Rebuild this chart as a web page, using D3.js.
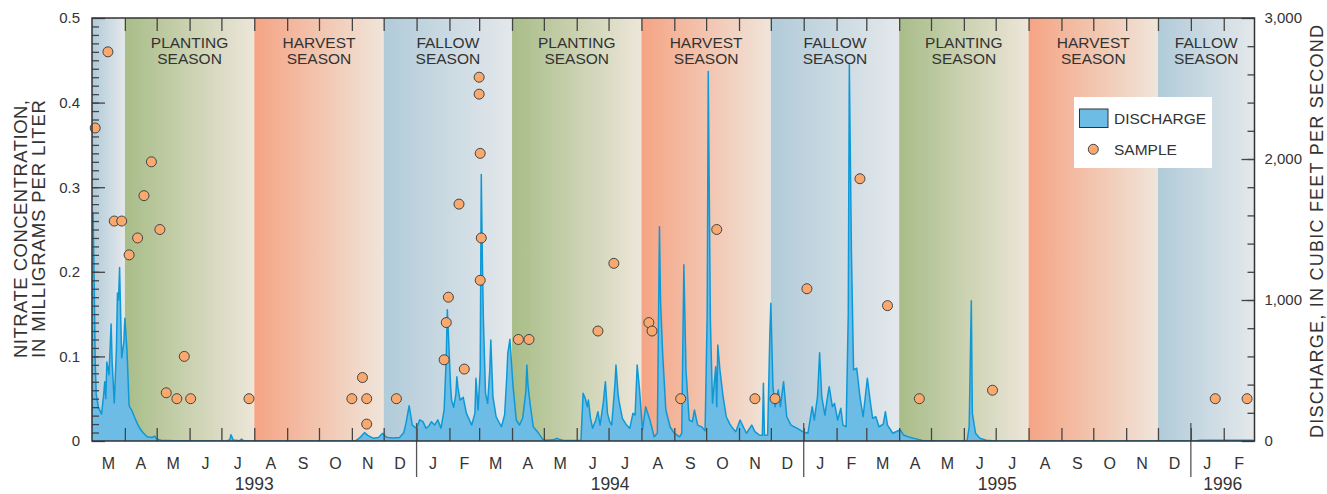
<!DOCTYPE html>
<html>
<head>
<meta charset="utf-8">
<script src="https://cdn.jsdelivr.net/npm/d3@7/dist/d3.min.js"></script>
<style>
  body { margin: 0; background: #fff; }
  svg text { font-family: "Liberation Sans", Arial, Helvetica, sans-serif; fill: #333; }
</style>
</head>
<body>
<svg id="chart" width="1327" height="494"></svg>
<script>
const seasonStarts = ["1993-03-01", "1993-04-01", "1993-08-01", "1993-12-01", "1994-04-01", "1994-08-01",
    "1994-12-01", "1995-04-01", "1995-08-01", "1995-12-01", "1996-03-01"];
const seasonNames = ["FALLOW", "PLANTING", "HARVEST", "FALLOW", "PLANTING", "HARVEST",
    "FALLOW", "PLANTING", "HARVEST", "FALLOW"];
const yearLabels = ["1993", "1994", "1995", "1996"];

// daily discharge, cubic feet per second
const discharge = [
    ["1993-03-01", 1600], ["1993-03-02", 1620], ["1993-03-03", 1150], ["1993-03-04", 560], ["1993-03-05", 330],
    ["1993-03-07", 240], ["1993-03-10", 190], ["1993-03-12", 330], ["1993-03-13", 420], ["1993-03-14", 300],
    ["1993-03-15", 560], ["1993-03-17", 470], ["1993-03-19", 830], ["1993-03-20", 560], ["1993-03-22", 270],
    ["1993-03-24", 650], ["1993-03-25", 1050], ["1993-03-26", 1000], ["1993-03-27", 1230], ["1993-03-28", 900],
    ["1993-03-29", 590], ["1993-03-31", 700], ["1993-04-01", 870], ["1993-04-03", 640], ["1993-04-05", 250],
    ["1993-04-08", 210], ["1993-04-10", 170], ["1993-04-13", 120], ["1993-04-15", 90], ["1993-04-18", 60],
    ["1993-04-22", 30], ["1993-04-27", 25], ["1993-04-29", 35], ["1993-05-01", 15], ["1993-05-05", 6],
    ["1993-05-15", 3], ["1993-05-25", 2], ["1993-06-15", 0], ["1993-07-06", 0], ["1993-07-09", 10],
    ["1993-07-10", 45], ["1993-07-12", 8], ["1993-07-18", 2], ["1993-07-20", 14], ["1993-07-22", 2],
    ["1993-07-31", 0], ["1993-11-04", 0], ["1993-11-08", 20], ["1993-11-13", 60], ["1993-11-16", 40],
    ["1993-11-21", 20], ["1993-11-26", 25], ["1993-11-30", 55], ["1993-12-03", 30], ["1993-12-05", 25],
    ["1993-12-10", 22], ["1993-12-16", 25], ["1993-12-20", 60], ["1993-12-22", 125], ["1993-12-25", 250],
    ["1993-12-28", 113], ["1994-01-01", 90], ["1994-01-04", 150], ["1994-01-07", 137], ["1994-01-10", 90],
    ["1994-01-13", 110], ["1994-01-15", 137], ["1994-01-18", 113], ["1994-01-21", 150], ["1994-01-24", 90],
    ["1994-01-27", 220], ["1994-01-29", 600], ["1994-01-30", 930], ["1994-01-31", 760], ["1994-02-02", 400],
    ["1994-02-03", 290], ["1994-02-05", 240], ["1994-02-07", 330], ["1994-02-08", 456], ["1994-02-09", 380],
    ["1994-02-11", 290], ["1994-02-14", 310], ["1994-02-17", 196], ["1994-02-22", 113], ["1994-02-25", 196],
    ["1994-02-26", 445], ["1994-02-28", 220], ["1994-03-01", 360], ["1994-03-02", 504], ["1994-03-03", 1890],
    ["1994-03-04", 1300], ["1994-03-05", 860], ["1994-03-07", 340], ["1994-03-09", 267], ["1994-03-11", 500],
    ["1994-03-12", 716], ["1994-03-14", 314], ["1994-03-17", 172], ["1994-03-22", 101], ["1994-03-25", 184],
    ["1994-03-27", 450], ["1994-03-28", 622], ["1994-03-30", 721], ["1994-04-02", 385], ["1994-04-05", 149],
    ["1994-04-08", 113], ["1994-04-11", 161], ["1994-04-14", 350], ["1994-04-15", 539], ["1994-04-16", 400],
    ["1994-04-18", 267], ["1994-04-21", 101], ["1994-04-25", 66], ["1994-04-30", 12], ["1994-05-03", 5],
    ["1994-05-10", 8], ["1994-05-13", 19], ["1994-05-16", 10], ["1994-05-19", 5], ["1994-06-05", 3],
    ["1994-06-07", 338], ["1994-06-09", 303], ["1994-06-11", 243], ["1994-06-12", 291], ["1994-06-14", 160],
    ["1994-06-16", 90], ["1994-06-19", 149], ["1994-06-21", 208], ["1994-06-23", 113], ["1994-06-26", 267],
    ["1994-06-28", 421], ["1994-06-30", 196], ["1994-07-02", 140], ["1994-07-04", 113], ["1994-07-07", 400],
    ["1994-07-08", 539], ["1994-07-10", 330], ["1994-07-11", 279], ["1994-07-14", 161], ["1994-07-18", 113],
    ["1994-07-21", 90], ["1994-07-24", 196], ["1994-07-26", 184], ["1994-07-28", 539], ["1994-07-30", 385],
    ["1994-08-02", 78], ["1994-08-05", 243], ["1994-08-09", 149], ["1994-08-13", 30], ["1994-08-16", 55],
    ["1994-08-18", 1520], ["1994-08-19", 1000], ["1994-08-21", 622], ["1994-08-24", 220], ["1994-08-28", 101],
    ["1994-09-01", 55], ["1994-09-06", 30], ["1994-09-08", 55], ["1994-09-10", 1250], ["1994-09-12", 504],
    ["1994-09-15", 149], ["1994-09-18", 137], ["1994-09-20", 220], ["1994-09-23", 113], ["1994-09-27", 100],
    ["1994-09-30", 73], ["1994-10-02", 900], ["1994-10-03", 2620], ["1994-10-05", 858], ["1994-10-07", 267],
    ["1994-10-10", 527], ["1994-10-11", 243], ["1994-10-12", 681], ["1994-10-14", 504], ["1994-10-17", 314],
    ["1994-10-20", 172], ["1994-10-23", 125], ["1994-10-26", 90], ["1994-10-29", 66], ["1994-11-02", 149],
    ["1994-11-05", 101], ["1994-11-08", 55], ["1994-11-13", 113], ["1994-11-16", 66], ["1994-11-20", 43],
    ["1994-11-23", 40], ["1994-11-24", 409], ["1994-11-25", 40], ["1994-11-28", 43], ["1994-11-30", 740],
    ["1994-12-01", 977], ["1994-12-03", 385], ["1994-12-05", 243], ["1994-12-08", 362], ["1994-12-10", 243],
    ["1994-12-13", 421], ["1994-12-16", 172], ["1994-12-20", 113], ["1994-12-26", 90], ["1994-12-31", 66],
    ["1995-01-05", 55], ["1995-01-09", 243], ["1995-01-11", 149], ["1995-01-14", 314], ["1995-01-16", 626],
    ["1995-01-18", 314], ["1995-01-21", 184], ["1995-01-23", 291], ["1995-01-25", 385], ["1995-01-28", 243],
    ["1995-01-30", 267], ["1995-02-02", 149], ["1995-02-05", 232], ["1995-02-07", 113], ["1995-02-10", 101],
    ["1995-02-12", 900], ["1995-02-13", 2670], ["1995-02-15", 1331], ["1995-02-17", 504], ["1995-02-20", 516],
    ["1995-02-23", 314], ["1995-02-26", 172], ["1995-03-02", 445], ["1995-03-05", 267], ["1995-03-07", 161],
    ["1995-03-10", 172], ["1995-03-13", 101], ["1995-03-17", 120], ["1995-03-19", 208], ["1995-03-21", 113],
    ["1995-03-26", 55], ["1995-03-31", 73], ["1995-04-02", 78], ["1995-04-05", 43], ["1995-04-11", 26],
    ["1995-04-17", 15], ["1995-04-23", 3], ["1995-05-10", 0], ["1995-06-04", 2], ["1995-06-06", 101],
    ["1995-06-08", 995], ["1995-06-09", 196], ["1995-06-12", 55], ["1995-06-16", 19], ["1995-06-22", 5],
    ["1995-07-01", 0], ["1996-01-05", 0], ["1996-01-10", 6], ["1996-02-29", 6]
];

// nitrate samples, milligrams per liter
const sampleDates = ["1993-03-04", "1993-03-16", "1993-03-22", "1993-03-29", "1993-04-05", "1993-04-13",
    "1993-04-19", "1993-04-26", "1993-05-04", "1993-05-10", "1993-05-20", "1993-05-27", "1993-06-02",
    "1993-07-27", "1993-11-01", "1993-11-11", "1993-11-15", "1993-11-15", "1993-12-13",
    "1994-01-27", "1994-01-29", "1994-01-31", "1994-02-10", "1994-02-15", "1994-03-01", "1994-03-01",
    "1994-03-02", "1994-03-02", "1994-03-03", "1994-04-07", "1994-04-17", "1994-06-21", "1994-07-06",
    "1994-08-08", "1994-08-11", "1994-09-07", "1994-10-11", "1994-11-16", "1994-12-05",
    "1995-01-04", "1995-02-23", "1995-03-21", "1995-04-20", "1995-06-28", "1996-01-24", "1996-02-23"];
const sampleValues = [0.37, 0.46, 0.26, 0.26, 0.22, 0.24,
    0.29, 0.33, 0.25, 0.057, 0.05, 0.10, 0.05,
    0.05, 0.05, 0.075, 0.05, 0.02, 0.05,
    0.096, 0.14, 0.17, 0.28, 0.085, 0.43, 0.41,
    0.34, 0.19, 0.24, 0.12, 0.12, 0.13, 0.21,
    0.14, 0.13, 0.05, 0.25, 0.05, 0.05,
    0.18, 0.31, 0.16, 0.05, 0.06, 0.05, 0.05];

const parse = d3.utcParse("%Y-%m-%d");
const svg = d3.select("#chart");
const plotLeft = 92, plotRight = 1254.5, plotTop = 18, plotBottom = 441;
const start = parse(seasonStarts[0]), end = parse(seasonStarts[seasonStarts.length - 1]);

const x = d3.scaleUtc().domain([start, end]).range([plotLeft, plotRight]);
const yN = d3.scaleLinear().domain([0, 0.5]).range([plotBottom, plotTop]);
const yQ = d3.scaleLinear().domain([0, 3000]).range([plotBottom, plotTop]);

const gradColors = {
    FALLOW: ["#b1cbd9", "#e4e8eb"],
    PLANTING: ["#a8bd88", "#ede6d9"],
    HARVEST: ["#f5a484", "#f0e5da"]
};
const defs = svg.append("defs");
Object.keys(gradColors).forEach(k => {
    let g = defs.append("linearGradient").attr("id", "g-" + k).attr("x1", 0).attr("x2", 1).attr("y1", 0).attr("y2", 0);
    g.append("stop").attr("offset", 0).attr("stop-color", gradColors[k][0]);
    g.append("stop").attr("offset", 1).attr("stop-color", gradColors[k][1]);
});
defs.append("clipPath").attr("id", "plot-clip")
    .append("rect").attr("x", plotLeft).attr("y", plotTop)
    .attr("width", plotRight - plotLeft).attr("height", plotBottom - plotTop);

let seasons = seasonNames.map((n, i) => ({ name: n, a: parse(seasonStarts[i]), b: parse(seasonStarts[i + 1]), i: i }));

svg.append("g").selectAll("rect")
    .data(seasons)
    .enter().append("rect")
    .attr("x", d => x(d.a))
    .attr("y", plotTop)
    .attr("width", d => x(d.b) - x(d.a))
    .attr("height", plotBottom - plotTop)
    .attr("fill", d => `url(#g-${d.name})`);

// discharge hydrograph
let flow = discharge.map(d => ({ date: parse(d[0]), q: d[1] }));
let plot = svg.append("g").attr("clip-path", "url(#plot-clip)");
plot.append("path")
    .datum(flow)
    .attr("fill", "#6cbce5")
    .attr("d", d3.area().x(d => x(d.date)).y0(plotBottom).y1(d => yQ(d.q)));
plot.append("path")
    .datum(flow)
    .attr("fill", "none")
    .attr("stroke", "#0e99d6")
    .attr("stroke-width", 1.5)
    .attr("stroke-linejoin", "round")
    .attr("d", d3.line().x(d => x(d.date)).y(d => yQ(d.q)));

// axes, ticks pointing into the plot
let styleAxis = g => {
    g.select(".domain").remove();
    g.selectAll(".tick line").attr("stroke", "#444").attr("stroke-width", 1.3);
    g.selectAll("text").attr("font-size", 15).attr("fill", "#333");
};
svg.append("g").attr("transform", `translate(${plotLeft},0)`)
    .call(d3.axisLeft(yN).tickValues(d3.range(0.01, 0.5, 0.01)).tickSizeInner(-7).tickSizeOuter(0).tickFormat(""))
    .call(styleAxis);
svg.append("g").attr("transform", `translate(${plotLeft},0)`)
    .call(d3.axisLeft(yN).tickValues([0, 0.1, 0.2, 0.3, 0.4, 0.5]).tickSizeInner(-13).tickSizeOuter(0).tickPadding(12)
        .tickFormat(d => d === 0 ? "0" : d3.format(".1f")(d)))
    .call(styleAxis);
svg.append("g").attr("transform", `translate(${plotRight},0)`)
    .call(d3.axisRight(yQ).tickValues(d3.range(200, 3000, 200)).tickSizeInner(-7).tickSizeOuter(0).tickFormat(""))
    .call(styleAxis);
svg.append("g").attr("transform", `translate(${plotRight},0)`)
    .call(d3.axisRight(yQ).tickValues([0, 1000, 2000, 3000]).tickSizeInner(-13).tickSizeOuter(0).tickPadding(10)
        .tickFormat(d3.format(",")))
    .call(styleAxis);

let months = d3.utcMonths(d3.utcMonth.offset(start, 1), end);
svg.append("g").attr("transform", `translate(0,${plotBottom})`)
    .call(d3.axisBottom(x).tickValues(months).tickSizeInner(-13).tickSizeOuter(0).tickFormat(""))
    .call(styleAxis);
svg.append("g").attr("transform", `translate(0,${plotTop})`)
    .call(d3.axisTop(x).tickValues(months).tickSizeInner(-13).tickSizeOuter(0).tickFormat(""))
    .call(styleAxis);

// month initials and years
let allMonths = d3.utcMonths(start, end);
svg.append("g").selectAll("text")
    .data(allMonths)
    .enter().append("text")
    .attr("x", d => (x(d) + x(d3.utcMonth.offset(d, 1))) / 2)
    .attr("y", 468.5)
    .attr("text-anchor", "middle")
    .attr("font-size", 16)
    .text(d => d3.utcFormat("%B")(d)[0]);

let yearBreaks = d3.utcYears(start, end);
svg.append("g").selectAll("line")
    .data(yearBreaks)
    .enter().append("line")
    .attr("x1", d => x(d)).attr("x2", d => x(d))
    .attr("y1", 423).attr("y2", 477)
    .attr("stroke", "#555").attr("stroke-width", 1.3);

svg.append("g").selectAll("text")
    .data(yearLabels)
    .enter().append("text")
    .attr("x", d => {
        let a = d3.max([start, parse(d + "-01-01")]);
        let b = d3.min([end, parse((+d + 1) + "-01-01")]);
        return (x(a) + x(b)) / 2;
    })
    .attr("y", 490)
    .attr("text-anchor", "middle")
    .attr("font-size", 17.5)
    .text(d => d);

// season labels
let lab = svg.append("g").selectAll("text")
    .data(seasons.filter(d => d.i > 0))
    .enter().append("text")
    .attr("text-anchor", "middle")
    .attr("font-size", 15.5)
    .attr("fill", "#333");
lab.append("tspan")
    .attr("x", d => (x(d.a) + x(d.b)) / 2)
    .attr("y", 48.3)
    .text(d => d.name);
lab.append("tspan")
    .attr("x", d => (x(d.a) + x(d.b)) / 2)
    .attr("y", 64.3)
    .text("SEASON");

// samples
let samples = sampleDates.map((d, i) => ({ date: parse(d), v: sampleValues[i] }));
svg.append("g").selectAll("circle")
    .data(samples)
    .enter().append("circle")
    .attr("cx", d => x(d.date))
    .attr("cy", d => yN(d.v))
    .attr("r", 5)
    .attr("fill", "#f9a96e")
    .attr("stroke", "#444")
    .attr("stroke-width", 1);

// frame
svg.append("rect")
    .attr("x", plotLeft).attr("y", plotTop)
    .attr("width", plotRight - plotLeft).attr("height", plotBottom - plotTop)
    .attr("fill", "none").attr("stroke", "#333").attr("stroke-width", 1.5);

// legend
let legend = svg.append("g");
legend.append("rect").attr("x", 1074).attr("y", 97).attr("width", 138).attr("height", 71).attr("fill", "#fff");
legend.append("rect").attr("x", 1079.5).attr("y", 109).attr("width", 28.5).attr("height", 18.5)
    .attr("fill", "#6cbce5").attr("stroke", "#333").attr("stroke-width", 1);
legend.append("circle").attr("cx", 1093.3).attr("cy", 149.3).attr("r", 5)
    .attr("fill", "#f9a96e").attr("stroke", "#444");
legend.append("text").attr("x", 1114).attr("y", 124).attr("font-size", 15.5).text("DISCHARGE");
legend.append("text").attr("x", 1114).attr("y", 155).attr("font-size", 15.5).text("SAMPLE");

// axis titles
svg.append("text")
    .attr("transform", "translate(27,229) rotate(-90)")
    .attr("text-anchor", "middle")
    .attr("font-size", 18.5)
    .attr("textLength", 258).attr("lengthAdjust", "spacing")
    .text("NITRATE CONCENTRATION,");
svg.append("text")
    .attr("transform", "translate(45,229) rotate(-90)")
    .attr("text-anchor", "middle")
    .attr("font-size", 18.5)
    .attr("textLength", 258).attr("lengthAdjust", "spacing")
    .text("IN MILLIGRAMS PER LITER");
svg.append("text")
    .attr("transform", "translate(1323,231.5) rotate(-90)")
    .attr("text-anchor", "middle")
    .attr("font-size", 18)
    .attr("textLength", 413).attr("lengthAdjust", "spacing")
    .text("DISCHARGE, IN CUBIC FEET PER SECOND");
</script>
</body>
</html>
